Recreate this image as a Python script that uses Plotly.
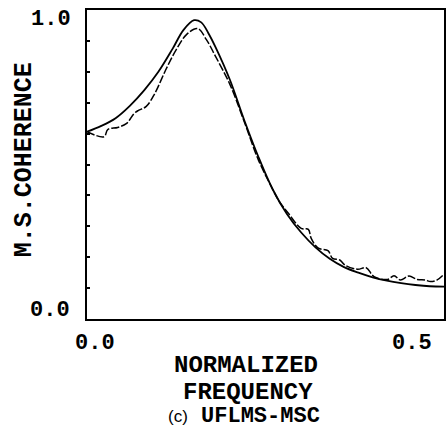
import plotly.graph_objects as go

# Theoretical MSC (smooth, solid)
theory_f = [0.0, 0.02, 0.04, 0.06, 0.08, 0.10, 0.12, 0.135, 0.15, 0.16, 0.17, 0.18,
            0.20, 0.22, 0.24, 0.26, 0.28, 0.30, 0.32, 0.34, 0.36, 0.38, 0.40,
            0.42, 0.44, 0.46, 0.48, 0.50]
theory_v = [0.606, 0.625, 0.650, 0.690, 0.740, 0.800, 0.875, 0.935, 0.967, 0.960,
            0.925, 0.880, 0.775, 0.645, 0.525, 0.420, 0.340, 0.280, 0.232, 0.195,
            0.168, 0.150, 0.135, 0.124, 0.116, 0.110, 0.106, 0.105]

# UFLMS-MSC estimate (wiggly, dashed)
est_f = [0.0, 0.024, 0.029, 0.043, 0.055, 0.066, 0.072, 0.083, 0.095, 0.110, 0.125,
         0.140, 0.155, 0.167, 0.180, 0.200, 0.220, 0.240, 0.260, 0.268, 0.282,
         0.300, 0.310, 0.314, 0.324, 0.3375, 0.344, 0.354, 0.361, 0.379, 0.391,
         0.402, 0.421, 0.430, 0.439, 0.451, 0.4625, 0.474, 0.481, 0.490, 0.500]
est_v = [0.606, 0.590, 0.613, 0.620, 0.632, 0.665, 0.675, 0.688, 0.730, 0.805, 0.872,
         0.922, 0.940, 0.905, 0.850, 0.760, 0.640, 0.515, 0.420, 0.385, 0.342,
         0.293, 0.290, 0.261, 0.229, 0.221, 0.196, 0.191, 0.175, 0.161, 0.166,
         0.137, 0.128, 0.140, 0.126, 0.139, 0.128, 0.126, 0.121, 0.126, 0.145]

x_tick_text = ["0.0", "0.5"]
y_tick_text = ["1.0", "0.0"]

W, H = 448, 431
L, R, T, B = 87, 2, 10, 112
FONT = "Liberation Mono"

def px(x):
    return (x - L) / (W - L - R)

def py(y):
    return (H - B - y) / (H - T - B)

fig = go.Figure()
fig.add_trace(go.Scatter(x=theory_f, y=theory_v, mode="lines", line_shape="spline",
                         line=dict(color="black", width=1.8), showlegend=False))
fig.add_trace(go.Scatter(x=est_f, y=est_v, mode="lines", line_shape="spline",
                         line=dict(color="black", width=1.5, dash="8px,2px"),
                         showlegend=False))

def label(text, x, y, size=22, angle=0):
    return dict(text=text, x=px(x), y=py(y), xref="paper", yref="paper",
                showarrow=False, xanchor="center", yanchor="middle", textangle=angle,
                font=dict(family=FONT, size=size, color="black"))

annotations = [
    label("<b>" + y_tick_text[0] + "</b>", 51, 20),
    label("<b>" + y_tick_text[1] + "</b>", 50, 310),
    label("<b>" + x_tick_text[0] + "</b>", 95, 343),
    label("<b>" + x_tick_text[1] + "</b>", 414, 343),
    label("<b>NORMALIZED</b>", 247, 365, size=24),
    label("<b>FREQUENCY</b>", 249, 392, size=24),
    label("<span style='font-size:17px;font-family:Liberation Sans'>(c)</span> "
          "<b>UFLMS-MSC</b>", 245, 416, size=22),
    label("<b>M.S.COHERENCE</b>", 24, 160, size=25, angle=-90),
]

fig.update_layout(
    width=W, height=H,
    margin=dict(l=L, r=R, t=T, b=B),
    paper_bgcolor="white", plot_bgcolor="white",
    annotations=annotations,
)
fig.update_xaxes(range=[0, 0.5], showgrid=False, zeroline=False, showline=True,
                 linecolor="black", linewidth=2, mirror=True, showticklabels=False,
                 ticks="")
fig.update_yaxes(range=[0, 1.0], showgrid=False, zeroline=False, showline=True,
                 linecolor="black", linewidth=2, mirror=True, showticklabels=False,
                 ticks="inside", tickvals=[i / 10 for i in range(11)], ticklen=3,
                 tickwidth=1.5, tickcolor="black")

fig.write_html("out.html")
